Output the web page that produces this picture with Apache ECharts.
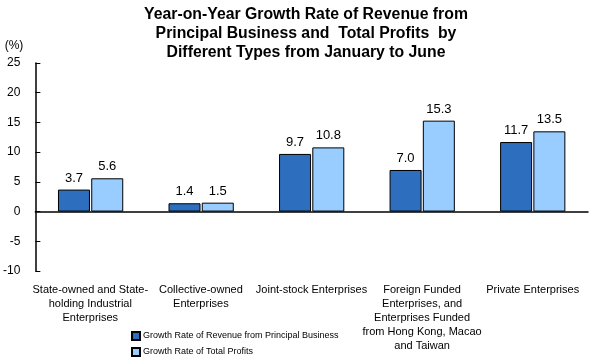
<!DOCTYPE html>
<html><head><meta charset="utf-8">
<script src="https://cdn.jsdelivr.net/npm/echarts@6/dist/echarts.min.js"></script>
<style>html,body{margin:0;padding:0;background:#fff}#c{width:593px;height:359px}</style>
</head><body><div id="c"></div>
<script>
const categories = [
  "State-owned and State-\nholding Industrial\nEnterprises",
  "Collective-owned\nEnterprises",
  "Joint-stock Enterprises",
  "Foreign Funded\nEnterprises, and\nEnterprises Funded\nfrom Hong Kong, Macao\nand Taiwan",
  "Private Enterprises"
];
const revenueGrowth = [3.7, 1.4, 9.7, 7.0, 11.7];
const profitGrowth = [5.6, 1.5, 10.8, 15.3, 13.5];
const seriesNames = ["Growth Rate of Revenue from Principal Business", "Growth Rate of Total Profits"];
const yTicks = { min: -10, max: 25, interval: 5 };

const font = "Arial, 'Liberation Sans', sans-serif";
const chart = echarts.init(document.getElementById('c'), null, { renderer: 'canvas' });
const labelCfg = {
  show: true, position: 'top', distance: 5, color: '#000', fontSize: 13, fontFamily: font,
  formatter: p => p.value.toFixed(1)
};
const legendBase = {
  orient: 'vertical', left: 126, itemWidth: 8, itemHeight: 8, icon: 'rect', itemGap: 4,
  textStyle: { fontSize: 9, fontFamily: font, color: '#000', padding: [0, 0, 0, -2] }
};
chart.setOption({
  animation: false,
  title: {
    text: "Year-on-Year Growth Rate of Revenue from\nPrincipal Business and  Total Profits  by\nDifferent Types from January to June",
    left: 301, top: 0, textAlign: 'center',
    textStyle: { fontSize: 15.8, fontWeight: 'bold', fontFamily: font, lineHeight: 19, color: '#000' }
  },
  legend: [
    Object.assign({}, legendBase, { top: 326, data: [seriesNames[0]] }),
    Object.assign({}, legendBase, { top: 342, data: [seriesNames[1]] })
  ],
  grid: [
    { left: 35, right: 5, top: 63, bottom: 88 },
    { left: 35, right: 5, top: 63, bottom: 88 }
  ],
  xAxis: [
    { type: 'category', gridIndex: 0, data: categories,
      axisLine: { onZero: true, lineStyle: { color: '#000', width: 1.5 } },
      axisTick: { show: false }, axisLabel: { show: false } },
    { type: 'category', gridIndex: 1, data: categories,
      axisLine: { show: false }, axisTick: { show: false },
      axisLabel: { interval: 0, fontSize: 11, fontFamily: font, color: '#000', lineHeight: 14, margin: 12, align: 'center' } }
  ],
  yAxis: [
    { type: 'value', gridIndex: 0, min: yTicks.min, max: yTicks.max, interval: yTicks.interval,
      name: '(%)', nameLocation: 'end', nameGap: 11,
      nameTextStyle: { fontSize: 12, fontFamily: font, color: '#000', align: 'right', padding: [0, 12, 0, 0] },
      axisLine: { show: true, onZero: false, lineStyle: { color: '#000', width: 1.5 } },
      axisTick: { show: true, inside: true, length: 5, lineStyle: { color: '#000' } },
      axisLabel: { fontSize: 12, fontFamily: font, color: '#000', margin: 15 },
      splitLine: { show: false } },
    { type: 'value', gridIndex: 1, min: yTicks.min, max: yTicks.max, show: false, splitLine: { show: false } }
  ],
  series: [
    { name: seriesNames[0], type: 'bar', xAxisIndex: 0, yAxisIndex: 0, data: revenueGrowth,
      barWidth: 32, barGap: '4%',
      itemStyle: { color: '#2E6EBE', borderColor: '#000', borderWidth: 1 }, label: labelCfg },
    { name: seriesNames[1], type: 'bar', xAxisIndex: 0, yAxisIndex: 0, data: profitGrowth,
      barWidth: 32, barGap: '4%',
      itemStyle: { color: '#99CCFF', borderColor: '#000', borderWidth: 1 }, label: labelCfg }
  ]
});
</script></body></html>
